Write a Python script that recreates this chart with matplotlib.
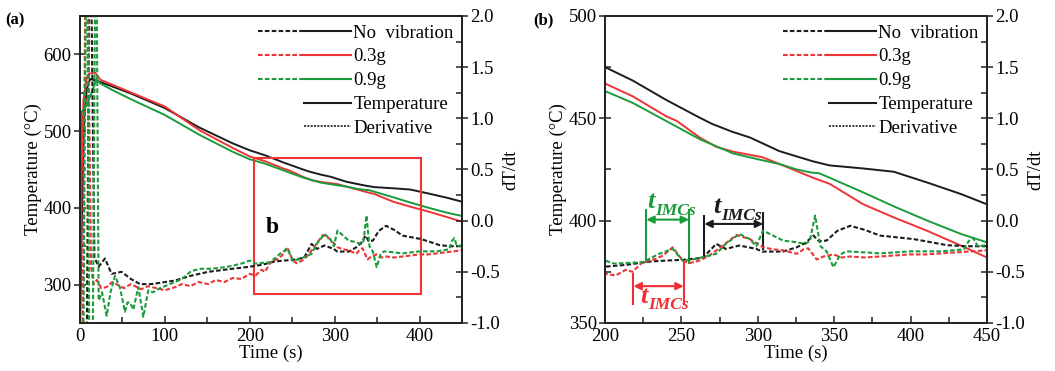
import matplotlib
matplotlib.use("Agg")
import matplotlib.pyplot as plt
from matplotlib.lines import Line2D
from matplotlib.legend_handler import HandlerTuple
from matplotlib.patches import Rectangle
from matplotlib.ticker import MultipleLocator, FormatStrFormatter

plt.rcParams["font.family"] = ["Liberation Serif", "DejaVu Serif"]

# ---------------- cooling curves: temperature (°C) vs time (s) ----------------
t_temp_none = [0, 2.5, 5, 8, 12, 24, 60, 100, 140, 180, 200, 218, 240, 262, 270, 283,
               295, 314, 336, 347, 369, 389, 411, 433, 450]
temp_none = [240, 400, 520, 555, 568, 564, 549, 530, 505, 484, 475, 468.5, 459, 450.3,
             447.3, 443.5, 440.6, 434, 429, 427, 425.5, 423.9, 418.6, 413, 408]

t_temp_03g = [0, 1.5, 4, 8, 11, 18, 24, 63, 100, 141, 180, 200, 218, 240, 247, 262,
              273, 284, 303, 314.5, 336, 347, 369, 389, 411, 433, 450]
temp_03g = [240, 420, 540, 570, 575, 576, 567, 549, 532, 501, 478, 467, 460.8, 451,
            448.7, 440.6, 436, 433.7, 431, 427.6, 421, 418, 408, 401.6, 395, 387.8, 382]

t_temp_09g = [0, 0.7, 1.5, 6, 12, 19.5, 24, 39, 63, 100, 141, 180, 200, 218, 240, 262,
              284, 303, 314.5, 325.5, 335, 340, 347, 369, 389, 411, 433, 450]
temp_09g = [240, 450, 525, 530, 545, 568, 562, 553, 540, 521, 495, 473, 463.3, 457.6,
            448.7, 439.8, 432.8, 429.5, 427.6, 425, 423.5, 423.2, 421, 413.8, 407, 400,
            393.5, 389.4]

# ---------------- derivative curves: dT/dt vs time (s) ----------------
t_der_none = [0, 8, 11, 13, 17, 22, 29.4, 37.3, 49, 60, 70.7, 84.4, 100, 111.9, 130, 151,
              170, 190, 200, 215, 229, 240, 251, 264, 272.8, 279, 288, 299, 303, 316.6,
              325.5, 331, 336.4, 340, 345, 352, 360.5, 370, 380, 402, 424, 437, 450]
der_none = [-1.3, -1.3, 2.5, 2.5, -0.36, -0.45, -0.37, -0.52, -0.50, -0.57, -0.62, -0.62,
            -0.60, -0.585, -0.54, -0.50, -0.48, -0.46, -0.45, -0.43, -0.40, -0.39, -0.383,
            -0.363, -0.227, -0.276, -0.243, -0.276, -0.302, -0.302, -0.26, -0.22, -0.146,
            -0.20, -0.195, -0.10, -0.05, -0.09, -0.146, -0.18, -0.24, -0.25, -0.25]

t_der_03g = [0, 3, 6.5, 9, 13, 16, 20, 25, 31, 38, 45, 52, 60, 72, 80, 90, 100, 112, 120,
             130, 140, 151, 160, 170, 180, 190, 200, 207, 213.6, 218, 224.5, 233.3, 238,
             244.3, 250.8, 255, 261.8, 268.4, 277.2, 286, 294.7, 303.4, 310, 316.6, 325.5,
             330, 333, 338.6, 343, 349.5, 355, 360.5, 370, 380, 390, 400, 410, 420, 430,
             440, 450]
der_03g = [-1.3, -1.3, 2.5, 2.5, -0.45, -0.62, -0.58, -0.66, -0.65, -0.60, -0.63, -0.66,
           -0.62, -0.67, -0.64, -0.66, -0.68, -0.65, -0.62, -0.64, -0.60, -0.62, -0.58,
           -0.60, -0.56, -0.57, -0.52, -0.535, -0.48, -0.50, -0.406, -0.373, -0.34, -0.26,
           -0.39, -0.416, -0.39, -0.34, -0.243, -0.14, -0.18, -0.26, -0.28, -0.29, -0.324,
           -0.28, -0.27, -0.38, -0.35, -0.33, -0.36, -0.35, -0.36, -0.35, -0.34, -0.33,
           -0.33, -0.32, -0.31, -0.30, -0.29]

t_der_09g = [0, 4, 7, 8.5, 11, 15, 18, 19.5, 22, 26, 31.4, 36, 41.2, 47, 53, 56, 59, 62.8,
             68.7, 74.6, 80.5, 86, 92.3, 100, 111.9, 120, 131.5, 143, 155, 170.8, 180, 190,
             200, 206, 211, 224.5, 235.5, 244.3, 250.8, 257.4, 266, 272.8, 279, 288, 294.7,
             299, 303.4, 316.6, 325, 331, 334, 337.5, 341, 345, 349.5, 354, 358, 370, 380,
             400, 420, 435, 438, 441, 444, 450]
der_09g = [-1.3, -1.3, 2.5, 2.5, -1.3, -1.3, 2.5, 2.5, -0.78, -0.70, -0.93, -0.70, -0.54,
           -0.65, -0.89, -0.80, -0.80, -0.87, -0.65, -0.94, -0.68, -0.70, -0.667, -0.64,
           -0.60, -0.57, -0.49, -0.47, -0.47, -0.455, -0.44, -0.42, -0.39, -0.42, -0.416,
           -0.406, -0.324, -0.276, -0.39, -0.38, -0.35, -0.324, -0.227, -0.13, -0.18,
           -0.25, -0.097, -0.195, -0.21, -0.227, -0.20, 0.05, -0.25, -0.30, -0.455, -0.33,
           -0.30, -0.31, -0.32, -0.30, -0.30, -0.28, -0.20, -0.17, -0.25, -0.24]

series_labels = ["No  vibration", "0.3g", "0.9g"]
series_colors = ["#1c1c1c", "#ee3434", "#1a9c3c"]

# incubation periods of the intermetallic compounds (s)
imc_span_09g = (227.0, 255.0)
imc_span_03g = (218.6, 251.5)
imc_span_none = (265.0, 303.5)

temps = [(t_temp_none, temp_none), (t_temp_03g, temp_03g), (t_temp_09g, temp_09g)]
ders = [(t_der_none, der_none), (t_der_03g, der_03g), (t_der_09g, der_09g)]

FS = 13.5
DASH = (0, (2.2, 1.1))

fig = plt.figure(figsize=(10.55, 3.71), dpi=100)
ax_a = fig.add_axes([0.0758, 0.1294, 0.3621, 0.8275])
ax_b = fig.add_axes([0.5735, 0.1294, 0.3620, 0.8275])


def setup_panel(ax, xlim, ylim, xmaj, xmin, ymaj, ymin):
    ax2 = ax.twinx()
    for (tt, vv), c in zip(temps, series_colors):
        ax.plot(tt, vv, color=c, lw=1.4, solid_joinstyle="round")
    for (tt, vv), c in zip(ders, series_colors):
        ax2.plot(tt, vv, color=c, lw=1.5, linestyle=DASH)
    ax.set_xlim(*xlim)
    ax.set_ylim(*ylim)
    ax2.set_ylim(-1.0, 2.0)
    ax.xaxis.set_major_locator(MultipleLocator(xmaj))
    ax.xaxis.set_minor_locator(MultipleLocator(xmin))
    ax.yaxis.set_major_locator(MultipleLocator(ymaj))
    ax.yaxis.set_minor_locator(MultipleLocator(ymin))
    ax2.yaxis.set_major_locator(MultipleLocator(0.5))
    ax2.yaxis.set_minor_locator(MultipleLocator(0.25))
    ax2.yaxis.set_major_formatter(FormatStrFormatter("%.1f"))
    for a in (ax, ax2):
        for s in a.spines.values():
            s.set_linewidth(1.3)
            s.set_color("#222222")
        a.tick_params(axis="both", which="both", labelsize=FS, width=1.1, color="#222222")
        a.tick_params(axis="y", which="major", direction="inout", length=8, pad=2)
        a.tick_params(axis="y", which="minor", direction="in", length=4)
        a.tick_params(axis="x", which="major", direction="in", length=5)
        a.tick_params(axis="x", which="minor", direction="in", length=4)
    ax.set_xlabel("Time (s)", fontsize=FS, labelpad=0)
    ax.set_ylabel("Temperature (°C)", fontsize=FS, labelpad=1)
    ax2.set_ylabel("dT/dt", fontsize=FS, labelpad=2)

    # legend: dashed + solid sample for each condition, then the line-type key
    blank = Line2D([], [], linestyle="None")
    handles = []
    for c in series_colors:
        handles.append((Line2D([], [], color=c, lw=1.5, linestyle=DASH),
                        Line2D([], [], color=c, lw=1.5)))
    handles.append((blank, Line2D([], [], color="#1c1c1c", lw=1.5)))
    handles.append((blank, Line2D([], [], color="#1c1c1c", lw=1.2, linestyle=(0, (1.2, 0.8)))))
    labels = series_labels + ["Temperature", "Derivative"]
    leg = ax2.legend(handles, labels, loc="upper right", bbox_to_anchor=(1.0, 1.0),
                     frameon=False, fontsize=FS, handlelength=5.0, handletextpad=0.1,
                     labelspacing=0.36, borderaxespad=0.15, borderpad=0.3,
                     handler_map={tuple: HandlerTuple(ndivide=None, pad=0)})
    leg.set_zorder(10)
    return ax2


ax2_a = setup_panel(ax_a, (0, 450), (250, 650), 100, 50, 100, 50)
ax2_b = setup_panel(ax_b, (200, 450), (350, 500), 50, 25, 50, 25)

# highlighted region of panel (a) shown enlarged in panel (b)
ax_a.add_patch(Rectangle((205, 288), 197, 177, fill=False, edgecolor="#ee3434", lw=1.5,
                         zorder=5))
ax_a.text(226, 375, "b", fontsize=17, fontweight="bold", ha="center", va="center")

fig.text(0.005, 0.945, "(a)", fontsize=12, fontweight="bold", ha="left", va="center")
fig.text(0.505, 0.945, "(b)", fontsize=12, fontweight="bold", ha="left", va="center")


def imc_label(ax, x, y, color):
    """Bold italic 't' with a smaller 'IMCs' subscript, starting at (x, y)."""
    main = ax.text(x, y, "t", color=color, fontsize=19, fontweight="bold",
                   fontstyle="italic", ha="left", va="baseline", zorder=7)
    ax.annotate("IMCs", xy=(1.0, 0.0), xycoords=main, xytext=(0.5, -1.0),
                textcoords="offset points", color=color, fontsize=12.5,
                fontweight="bold", fontstyle="italic", ha="left", va="baseline",
                zorder=7)


def imc_marker(ax, span, color, y_left, y_right, y_arrow):
    t0, t1 = span
    ax.plot([t0, t0], y_left, color=color, lw=1.5, zorder=6)
    ax.plot([t1, t1], y_right, color=color, lw=1.5, zorder=6)
    ax.annotate("", xy=(t1, y_arrow), xytext=(t0, y_arrow), zorder=6,
                arrowprops=dict(arrowstyle="<|-|>", color=color, lw=1.5,
                                shrinkA=0, shrinkB=0, mutation_scale=11))


imc_marker(ax_b, imc_span_09g, "#1a9c3c", (380, 405), (379.5, 405), 400.5)
imc_label(ax_b, 227.6, 406.0, "#1a9c3c")
imc_marker(ax_b, imc_span_03g, "#ee3034", (359.5, 374), (359.5, 379.7), 368)
imc_label(ax_b, 223.0, 360.0, "#ee3034")
imc_marker(ax_b, imc_span_none, "#1c1c1c", (383, 402.5), (386, 403.5), 398.4)
imc_label(ax_b, 271.0, 403.6, "#1c1c1c")

fig.savefig("out.png", dpi=100)
